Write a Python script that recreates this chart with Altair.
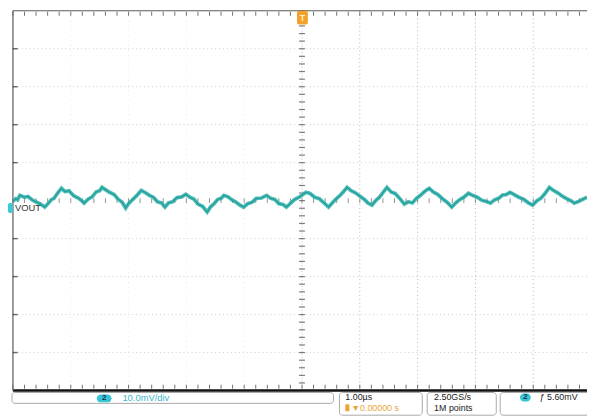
import altair as alt
import numpy as np
import pandas as pd

# ---- waveform (time in µs from trigger, VOUT in mV from screen centre)
TIME_US = [
    -5.00, -4.95, -4.92, -4.88, -4.80, -4.74, -4.66, -4.58, -4.52, -4.45,
    -4.40, -4.34, -4.29, -4.23, -4.16, -4.10, -4.03, -3.95, -3.87, -3.82,
    -3.77, -3.70, -3.63, -3.56, -3.50, -3.46, -3.40, -3.33, -3.25, -3.18,
    -3.11, -3.05, -3.00, -2.93, -2.86, -2.78, -2.72, -2.64, -2.57, -2.50,
    -2.43, -2.37, -2.31, -2.24, -2.16, -2.08, -2.01, -1.94, -1.87, -1.80,
    -1.72, -1.64, -1.58, -1.52, -1.46, -1.40, -1.35, -1.28, -1.21, -1.15,
    -1.08, -1.01, -0.94, -0.86, -0.79, -0.70, -0.61, -0.54, -0.47, -0.40,
    -0.33, -0.27, -0.20, -0.13, -0.05, 0.07, 0.14, 0.22, 0.30, 0.38,
    0.46, 0.53, 0.60, 0.66, 0.72, 0.78, 0.85, 0.93, 1.01, 1.08,
    1.14, 1.21, 1.28, 1.34, 1.40, 1.47, 1.54, 1.61, 1.69, 1.77,
    1.84, 1.91, 1.98, 2.05, 2.12, 2.20, 2.27, 2.35, 2.43, 2.51,
    2.59, 2.66, 2.73, 2.80, 2.88, 2.95, 3.03, 3.11, 3.19, 3.26,
    3.33, 3.40, 3.47, 3.53, 3.60, 3.67, 3.75, 3.83, 3.91, 3.99,
    4.06, 4.13, 4.20, 4.28, 4.35, 4.43, 4.51, 4.58, 4.65, 4.71,
    4.78, 4.85, 4.93,
]
VOUT_MV = [
    -0.1, 0.5, 0.2, 1.4, 0.9, 1.1, 0.1, -0.5, -0.9, -1.7,
    -0.9, 0.2, 0.6, 1.9, 3.25, 2.4, 2.6, 1.3, 0.7, 0.1,
    -0.65, 0.4, 1.0, 2.3, 2.6, 3.5, 2.9, 2.2, 1.6, 0.4,
    -0.4, -1.95, -0.8, 0.3, 1.3, 2.7, 2.2, 1.4, 0.9, -0.3,
    -0.6, -1.7, -0.6, -0.3, 0.8, 1.0, 1.7, 0.9, 0.4, -0.9,
    -1.5, -3.0, -1.6, -0.8, 0.3, 0.6, 1.4, 1.0, 0.2, -0.3,
    -1.1, -1.7, -0.8, -0.4, 0.6, 0.7, 1.4, 0.6, 0.3, -0.8,
    -1.0, -1.7, -0.7, 0.3, 0.9, 2.2, 1.9, 0.9, 0.5, -0.6,
    -1.7, -0.5, 0.6, 1.4, 2.4, 3.5, 2.6, 2.0, 1.1, 0.3,
    -0.6, -1.2, 0.1, 0.9, 2.1, 3.5, 2.3, 1.9, 0.6, -0.9,
    -0.3, -0.6, 0.6, 1.4, 2.4, 3.25, 2.3, 1.6, 0.5, -0.4,
    -1.7, -0.6, 0.3, 0.9, 1.95, 1.4, 0.9, 0.1, -0.2, -0.65,
    0.2, 0.6, 1.5, 1.6, 2.2, 1.6, 0.9, 0.4, -0.5, -1.2,
    -0.1, 0.6, 1.8, 3.5, 2.7, 2.0, 1.1, 0.5, 0.0, -0.65,
    -0.2, 0.3, 0.9,
]

# ---- graticule (µs per division = 1, mV per division = 10)
GRID_X_LEFT = [-4, -3, -2, -1]
GRID_X_RIGHT = [1, 2, 3, 4]
GRID_Y = [-40, -30, -20, -10, 10, 20, 30, 40]

# ---- screen texts
CH_BADGE = "2"
CH_LABEL = "VOUT"
TRIG_BADGE = "T"
VSCALE_TEXT = "10.0mV/div"
HSCALE_TEXT = "1.00µs"
TRIG_POS_TEXT = "▼0.00000 s"
SRATE_TEXT = "2.50GS/s"
RECLEN_TEXT = "1M points"
TRIG_LEVEL_TEXT = "ƒ 5.60mV"

X_MIN, X_MAX = -5.0, 4.93
Y_MIN, Y_MAX = -50.0, 50.0
W, H = 582, 385

xs = alt.Scale(domain=[X_MIN, X_MAX], nice=False, zero=False)
ys = alt.Scale(domain=[Y_MIN, Y_MAX], nice=False, zero=False)


def ex(f="x"):
    return alt.X(f"{f}:Q", scale=xs, axis=None)


def ey(f="y"):
    return alt.Y(f"{f}:Q", scale=ys, axis=None)


one = pd.DataFrame({"k": [0]})
minor_x = np.round(np.arange(X_MIN, X_MAX, 0.2), 2)
minor_y = np.round(np.arange(Y_MIN, Y_MAX + 0.1, 2.0), 2)

layers = []

# grid lines
layers.append(alt.Chart(pd.DataFrame({"x": GRID_X_LEFT})).mark_rule(
    color="#ebebeb", strokeDash=[1, 4], strokeWidth=1).encode(x=ex()))
layers.append(alt.Chart(pd.DataFrame({"x": GRID_X_RIGHT})).mark_rule(
    color="#b4b4b4", strokeDash=[1, 3], strokeWidth=1).encode(x=ex()))
layers.append(alt.Chart(pd.DataFrame({"y": GRID_Y})).mark_rule(
    color="#cdcdcd", strokeDash=[1, 3], strokeWidth=1).encode(y=ey()))

# centre cross with minor ticks
layers.append(alt.Chart(pd.DataFrame({"x": [0]})).mark_rule(
    color="#c4c4c4", strokeDash=[1, 2]).encode(x=ex()))
layers.append(alt.Chart(pd.DataFrame({"y": minor_y, "x": 0.0})).mark_tick(
    orient="horizontal", size=6, thickness=1.2, color="#444444").encode(x=ex(), y=ey()))
layers.append(alt.Chart(pd.DataFrame({"x": minor_x, "y": 0.0})).mark_tick(
    orient="vertical", size=5, thickness=1, color="#666666").encode(x=ex(), y=ey()))

# frame: top, bottom, left edges with ticks
layers.append(alt.Chart(pd.DataFrame({"y": [Y_MAX]})).mark_rule(
    color="#555555", strokeWidth=1).encode(y=ey()))
layers.append(alt.Chart(pd.DataFrame({"x": minor_x, "y": 49.2})).mark_tick(
    orient="vertical", size=4, thickness=1, color="#333333").encode(x=ex(), y=ey()))
layers.append(alt.Chart(pd.DataFrame({"y": [Y_MIN]})).mark_rule(
    color="#111111", strokeWidth=2.5).encode(y=ey()))
layers.append(alt.Chart(pd.DataFrame({"x": minor_x, "y": -49.0})).mark_tick(
    orient="vertical", size=4, thickness=1, color="#333333").encode(x=ex(), y=ey()))
layers.append(alt.Chart(pd.DataFrame({"x": [X_MIN]})).mark_rule(
    color="#666666", strokeWidth=1.3).encode(x=ex()))
layers.append(alt.Chart(pd.DataFrame({"y": GRID_Y, "x": -4.96})).mark_tick(
    orient="horizontal", size=5, thickness=1.5, color="#333333").encode(x=ex(), y=ey()))

# waveform
trace = pd.DataFrame({"t": TIME_US, "v": VOUT_MV})
layers.append(alt.Chart(trace).mark_line(
    color="#2fb2ab", strokeWidth=3.8, opacity=0.85, clip=True).encode(x=ex("t"), y=ey("v")))
layers.append(alt.Chart(trace).mark_line(
    color="#16948e", strokeWidth=1.2, opacity=0.8, clip=True).encode(x=ex("t"), y=ey("v")))


def rect(x1, x2, y1, y2, **kw):
    return alt.Chart(one).mark_rect(**kw).encode(
        x=alt.value(x1), x2=alt.value(x2), y=alt.value(y1), y2=alt.value(y2))


def text(label, x, y, **kw):
    base = dict(align="left", baseline="middle", font="Liberation Sans", fontSize=9, color="#222222")
    base.update(kw)
    return alt.Chart(pd.DataFrame({"label": [label]})).mark_text(**base).encode(
        x=alt.value(x), y=alt.value(y), text="label:N")


# channel ground marker and label
layers.append(rect(-5, 0, 195, 205, color="#3cc9d6", cornerRadius=2))
layers.append(text(CH_LABEL, 2, 200, fontSize=9.5, color="#333333"))

# trigger position marker
layers.append(rect(288, 299, 0, 14, color="#f2a12a", cornerRadius=2))
layers.append(text(TRIG_BADGE, 293.5, 7, align="center", fontSize=9, fontWeight="bold", color="#fff1c8"))

# status bar boxes
layers.append(rect(-1, 325, 387, 398, fill="white", stroke="#a8a8a8", strokeWidth=1, cornerRadius=3))
layers.append(rect(331, 415, 387, 410, fill="white", stroke="#a8a8a8", strokeWidth=1, cornerRadius=3))
layers.append(rect(420, 490, 387, 410, fill="white", stroke="#a8a8a8", strokeWidth=1, cornerRadius=3))
layers.append(rect(494, 600, 387, 410, fill="white", stroke="#a8a8a8", strokeWidth=1, cornerRadius=3))

layers.append(rect(85, 100, 389, 397, color="#36c5d4", cornerRadius=4))
layers.append(text(CH_BADGE, 92.5, 393, align="center", fontSize=8, fontWeight="bold", color="#16324f"))
layers.append(text(VSCALE_TEXT, 111, 393, color="#3ab5c8", fontSize=9.5))

layers.append(text(HSCALE_TEXT, 337, 392))
layers.append(rect(337, 341, 399, 406, color="#f2a12a"))
layers.append(text(TRIG_POS_TEXT, 343, 403, color="#e8a33a"))

layers.append(text(SRATE_TEXT, 427, 392))
layers.append(text(RECLEN_TEXT, 427, 403))

layers.append(rect(514, 525, 388, 396, color="#36c5d4", cornerRadius=4))
layers.append(text(CH_BADGE, 519.5, 392, align="center", fontSize=8, fontWeight="bold", color="#16324f"))
layers.append(text(TRIG_LEVEL_TEXT, 534, 392))

chart = alt.layer(*layers).properties(
    width=W,
    height=H,
    padding={"left": 5, "top": 0, "right": 0, "bottom": 23},
    autosize=alt.AutoSizeParams(type="none"),
    background="white",
).configure_view(stroke=None)

chart.save("out.html", embed_options={"renderer": "svg", "actions": False})
